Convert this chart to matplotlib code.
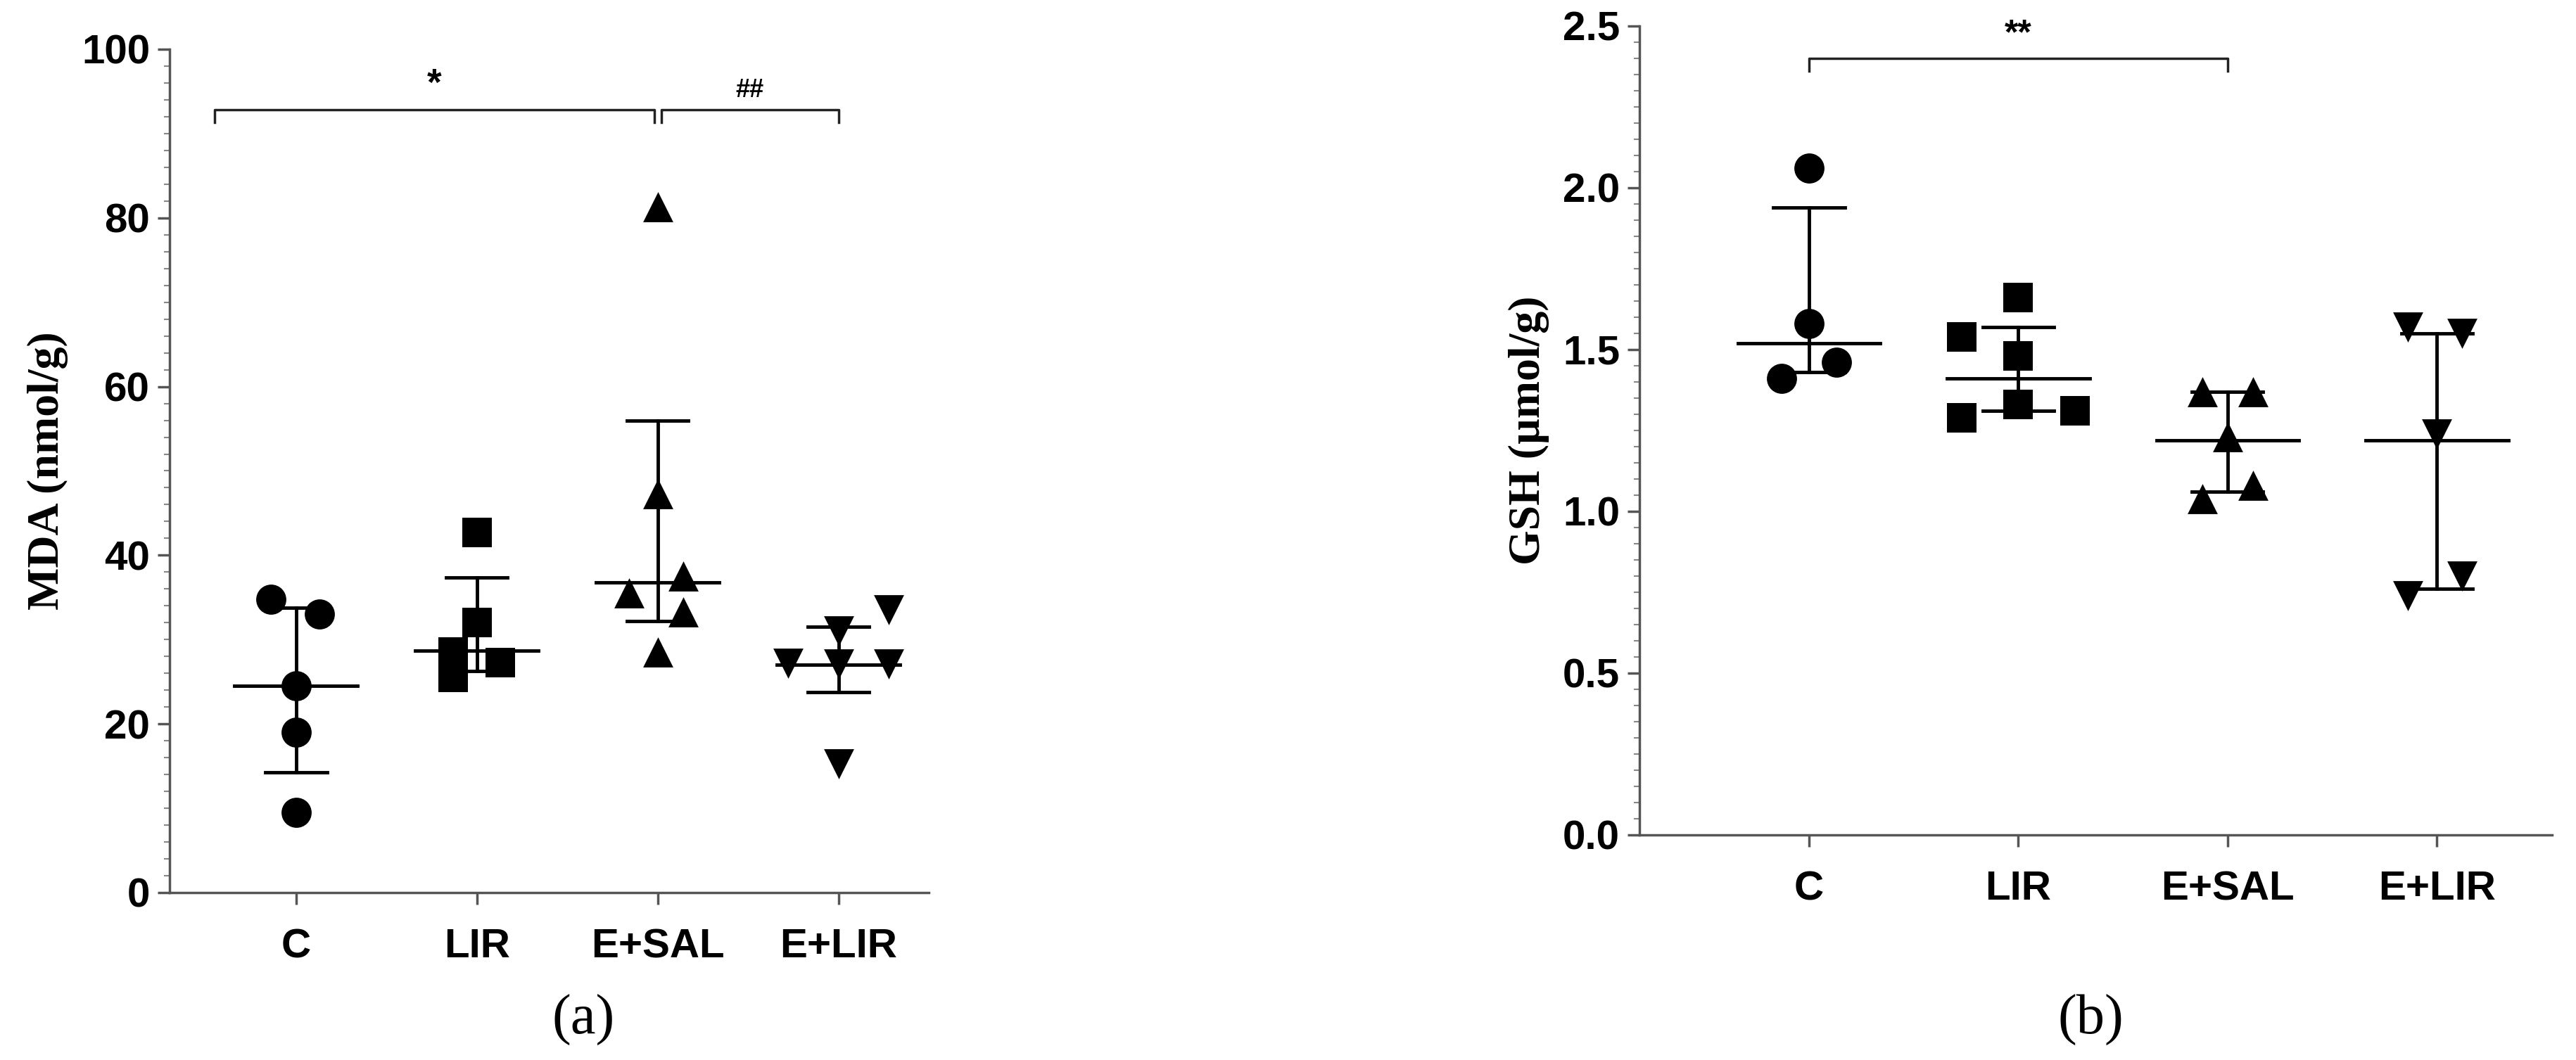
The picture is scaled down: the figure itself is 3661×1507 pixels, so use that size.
import matplotlib
matplotlib.use("Agg")
import matplotlib.pyplot as plt
from matplotlib.ticker import MultipleLocator

groups = ["C", "LIR", "E+SAL", "E+LIR"]
markers = ["o", "s", "^", "v"]

# Panel a: MDA
mda_vals = [[34.8, 33.0, 24.5, 19.0, 9.5],
            [42.7, 32.0, 28.5, 25.5, 27.3],
            [81.3, 47.3, 35.5, 37.5, 33.3, 28.5],
            [27.2, 31.0, 27.1, 33.5, 27.1, 15.3]]
mda_off = [[-0.14, 0.13, 0, 0, 0],
           [0, 0, -0.13, -0.13, 0.13],
           [0, 0, -0.16, 0.14, 0.14, 0],
           [-0.28, 0, 0, 0.28, 0.28, 0]]
mda_center = [24.5, 28.7, 36.8, 27.0]
mda_low = [14.3, 26.3, 32.2, 23.8]
mda_high = [33.8, 37.4, 56.0, 31.5]

# Panel b: GSH
gsh_vals = [[2.06, 1.58, 1.41, 1.46],
            [1.66, 1.54, 1.48, 1.29, 1.33, 1.31],
            [1.37, 1.37, 1.23, 1.04, 1.08],
            [1.57, 1.55, 1.24, 0.74, 0.80]]
gsh_off = [[0, 0, -0.13, 0.13],
           [0, -0.27, 0, -0.27, 0, 0.27],
           [-0.12, 0.12, 0, -0.12, 0.12],
           [-0.14, 0.12, 0, -0.14, 0.12]]
gsh_center = [1.52, 1.41, 1.22, 1.22]
gsh_low = [1.43, 1.31, 1.06, 0.76]
gsh_high = [1.94, 1.57, 1.37, 1.55]

tickfont = dict(family="Liberation Sans", weight="bold", size=42)

fig = plt.figure(figsize=(36.62, 15.07), dpi=100)
axa = fig.add_axes([241/3662, 1-1269/1507, (1320-241)/3662, (1269-70)/1507])
axb = fig.add_axes([2330/3662, 1-1187/1507, (3627-2330)/3662, (1187-37)/1507])

def draw(ax, vals, offs, cen, lo, hi, ymax, major, minor, fmt, ylabel, xlim):
    for i in range(4):
        xs = [i + o for o in offs[i]]
        ax.scatter(xs, vals[i], marker=markers[i], s=950, color="black", zorder=3, linewidths=0)
        ax.plot([i - 0.34, i + 0.34], [cen[i], cen[i]], color="black", lw=3.5, zorder=2)
        ax.plot([i, i], [lo[i], hi[i]], color="black", lw=3.5, zorder=2)
        for y in (lo[i], hi[i]):
            ax.plot([i - 0.17, i + 0.17], [y, y], color="black", lw=3.5, zorder=2)
    ax.set_xlim(*xlim)
    ax.set_ylim(0, ymax)
    ax.yaxis.set_major_locator(MultipleLocator(major))
    ax.yaxis.set_minor_locator(MultipleLocator(minor))
    ax.set_xticks(range(4))
    ax.set_xticklabels(groups, fontdict=tickfont)
    ax.set_yticklabels([fmt.format(t) for t in ax.get_yticks()], fontdict=tickfont)
    for s in ("top", "right"):
        ax.spines[s].set_visible(False)
    for s in ("left", "bottom"):
        ax.spines[s].set_color("#555555")
        ax.spines[s].set_linewidth(2.5)
    ax.tick_params(axis="both", which="major", length=12, width=2.5, color="#555555", pad=8)
    ax.tick_params(axis="y", which="minor", length=6, width=1.5, color="#888888")
    ax.tick_params(axis="x", pad=24)
    ax.set_ylabel(ylabel, fontsize=46, family="Liberation Serif", weight="bold", labelpad=14)

draw(axa, mda_vals, mda_off, mda_center, mda_low, mda_high, 100, 20, 2, "{:.0f}", "MDA (nmol/g)", (-0.7, 3.5))
draw(axb, gsh_vals, gsh_off, gsh_center, gsh_low, gsh_high, 2.5, 0.5, 0.05, "{:.1f}", "GSH (µmol/g)", (-0.81, 3.55))

def bracket(ax, x1, x2, y, h, text, size):
    ax.plot([x1, x1, x2, x2], [y - h, y, y, y - h], color="#222222", lw=2.5, clip_on=False)
    ax.text((x1 + x2) / 2, y + h * 0.6, text, ha="center", va="bottom", fontsize=size,
            family="Liberation Sans", weight="bold")

bracket(axa, -0.45, 1.98, 92.8, 1.5, "*", 38)
bracket(axa, 2.02, 3.0, 92.8, 1.5, "##", 26)
bracket(axb, 0, 2.0, 2.40, 0.04, "**", 36)

fig.text(0.2265, 1 - 1450/1507, "(a)", ha="center", va="center",
         fontsize=58, family="Liberation Serif")
fig.text(0.8115, 1 - 1450/1507, "(b)", ha="center", va="center",
         fontsize=58, family="Liberation Serif")
fig.savefig("out.png", dpi=100)
